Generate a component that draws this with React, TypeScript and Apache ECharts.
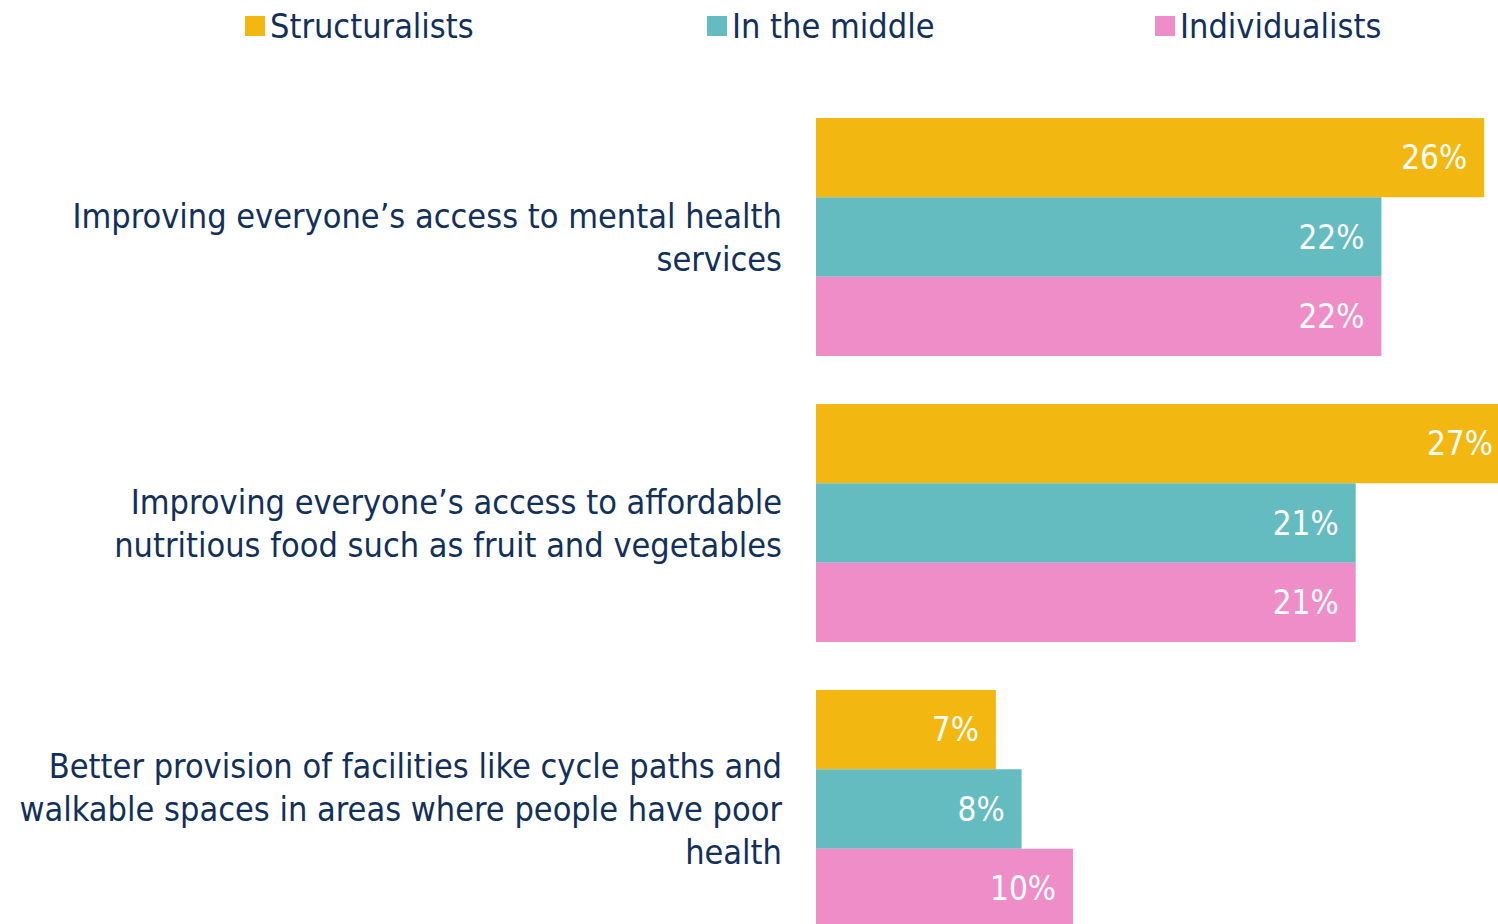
import React, { useEffect, useRef } from "react";
import * as echarts from "echarts";

const categories = [
  "Improving everyone’s access to mental health\nservices",
  "Improving everyone’s access to affordable\nnutritious food such as fruit and vegetables",
  "Better provision of facilities like cycle paths and\nwalkable spaces in areas where people have poor\nhealth",
];
const seriesNames = ["Structuralists", "In the middle", "Individualists"];
const structuralists = [26, 27, 7];
const inTheMiddle = [22, 21, 8];
const individualists = [22, 21, 10];
const colors = ["#F2B811", "#64BBC0", "#EF8DC9"];

const FONT = "'Liberation Sans Narrow', 'DejaVu Sans Condensed', 'Roboto Condensed', sans-serif";
const NAVY = "#12305A";

export default function App() {
  const ref = useRef<HTMLDivElement>(null);
  useEffect(() => {
    if (!ref.current) return;
    const chart = echarts.init(ref.current, undefined, { renderer: "svg" });
    const values = [structuralists, inTheMiddle, individualists];
    const legendLefts = [240, 702, 1150];
    chart.setOption({
      animation: false,
      color: colors,
      textStyle: { fontFamily: FONT },
      legend: seriesNames.map((n, i) => ({
        data: [n],
        left: legendLefts[i],
        top: 4,
        icon: "rect",
        itemWidth: 20,
        itemHeight: 20,
        itemGap: 8,
        textStyle: { fontFamily: FONT, fontSize: 34, color: NAVY },
      })),
      grid: {
        left: 816,
        top: 94,
        height: 858,
        width: 700,
        containLabel: false,
        outerBoundsMode: "none",
      },
      xAxis: {
        type: "value",
        min: 0,
        max: 700 / 25.7,
        show: false,
      },
      yAxis: {
        type: "category",
        data: categories,
        inverse: true,
        axisLine: { show: false },
        axisTick: { show: false },
        axisLabel: {
          margin: 34,
          fontFamily: FONT,
          fontSize: 34,
          lineHeight: 43,
          color: NAVY,
          align: "right",
        },
      },
      series: seriesNames.map((n, i) => ({
        name: n,
        type: "bar",
        data: values[i],
        barCategoryGap: "16.8%",
        barGap: "0%",
        clip: false,
        itemStyle: { color: colors[i] },
        label: {
          show: true,
          position: "insideRight",
          distance: 17,
          formatter: "{c}%",
          color: "#FFFFFF",
          fontFamily: FONT,
          fontSize: 33,
        },
      })),
    });
    return () => chart.dispose();
  }, []);
  return (
    <div style={{ position: "fixed", left: 0, top: 0, width: 1498, height: 924, overflow: "hidden", background: "#fff" }}>
      <div ref={ref} style={{ width: 1540, height: 970 }} />
    </div>
  );
}
